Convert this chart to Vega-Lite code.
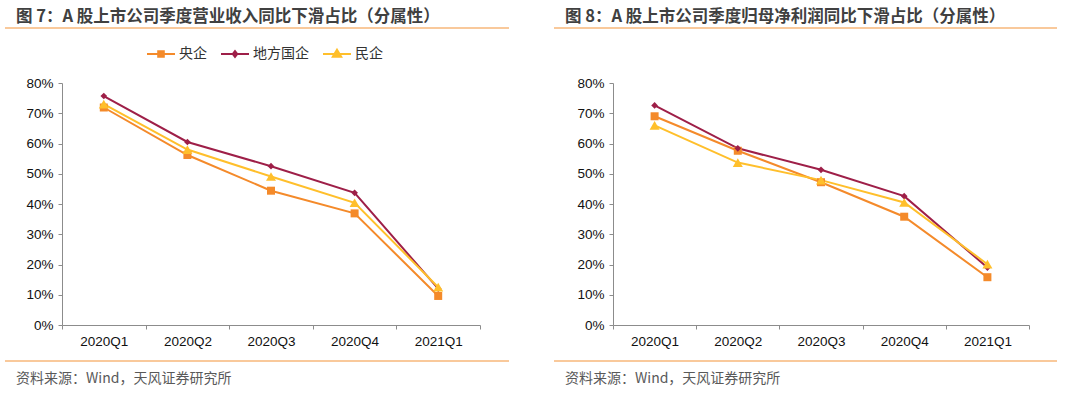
{
  "$schema": "https://vega.github.io/schema/vega-lite/v6.json",
  "background": "white",
  "padding": {"left": 3, "top": 8, "right": 0, "bottom": 0},
  "spacing": 42,
  "config": {
    "view": {"stroke": null},
    "font": "Liberation Sans",
    "axis": {"grid": false, "title": null, "domainColor": "#8c8c8c", "tickColor": "#8c8c8c", "tickSize": 4, "labelFont": "Liberation Sans", "labelFontSize": 13.5, "labelColor": "#111111", "labelOverlap": false}
  },
  "datasets": {
    "rev": [
      {"q": "2020Q1", "s": "央企", "v": 0.719},
      {"q": "2020Q2", "s": "央企", "v": 0.562},
      {"q": "2020Q3", "s": "央企", "v": 0.444},
      {"q": "2020Q4", "s": "央企", "v": 0.369},
      {"q": "2021Q1", "s": "央企", "v": 0.096},
      {"q": "2020Q1", "s": "地方国企", "v": 0.757},
      {"q": "2020Q2", "s": "地方国企", "v": 0.605},
      {"q": "2020Q3", "s": "地方国企", "v": 0.525},
      {"q": "2020Q4", "s": "地方国企", "v": 0.437},
      {"q": "2021Q1", "s": "地方国企", "v": 0.12},
      {"q": "2020Q1", "s": "民企", "v": 0.73},
      {"q": "2020Q2", "s": "民企", "v": 0.58},
      {"q": "2020Q3", "s": "民企", "v": 0.491},
      {"q": "2020Q4", "s": "民企", "v": 0.404},
      {"q": "2021Q1", "s": "民企", "v": 0.125}
    ],
    "profit": [
      {"q": "2020Q1", "s": "央企", "v": 0.69},
      {"q": "2020Q2", "s": "央企", "v": 0.576},
      {"q": "2020Q3", "s": "央企", "v": 0.472},
      {"q": "2020Q4", "s": "央企", "v": 0.358},
      {"q": "2021Q1", "s": "央企", "v": 0.158},
      {"q": "2020Q1", "s": "地方国企", "v": 0.726},
      {"q": "2020Q2", "s": "地方国企", "v": 0.584},
      {"q": "2020Q3", "s": "地方国企", "v": 0.513},
      {"q": "2020Q4", "s": "地方国企", "v": 0.426},
      {"q": "2021Q1", "s": "地方国企", "v": 0.19},
      {"q": "2020Q1", "s": "民企", "v": 0.66},
      {"q": "2020Q2", "s": "民企", "v": 0.537},
      {"q": "2020Q3", "s": "民企", "v": 0.479},
      {"q": "2020Q4", "s": "民企", "v": 0.405},
      {"q": "2021Q1", "s": "民企", "v": 0.201}
    ]
  },
  "hconcat": [
    {
      "width": 418,
      "height": 242,
      "title": {"text": "图 7：A 股上市公司季度营业收入同比下滑占比（分属性）", "anchor": "start", "frame": "group", "dx": -46, "offset": 2, "font": "Noto Sans CJK SC", "fontSize": 16.5, "fontWeight": "bold", "color": "#404040"},
      "layer": [
        {
          "data": {"name": "rev"},
          "mark": {"type": "line", "strokeWidth": 2},
          "encoding": {
            "x": {"field": "q", "type": "nominal", "bandPosition": 0.5, "scale": {"type": "band", "paddingInner": 0, "paddingOuter": 0}, "axis": {"labelAngle": 0, "tickBand": "extent", "labelPadding": 5}},
            "y": {"field": "v", "type": "quantitative", "scale": {"domain": [0, 0.8], "nice": false}, "axis": {"format": ".0%", "values": [0, 0.1, 0.2, 0.3, 0.4, 0.5, 0.6, 0.7, 0.8], "tickCount": 9, "labelPadding": 5}},
            "color": {"field": "s", "type": "nominal", "scale": {"domain": ["央企", "地方国企", "民企"], "range": ["#F48A2A", "#9E1F48", "#FFBF2B"]},
              "legend": {"orient": "none", "legendX": 84, "legendY": -44, "direction": "horizontal", "title": null, "padding": 0, "symbolSize": 784, "labelOffset": 3, "columnPadding": 10, "labelFont": "Noto Sans CJK SC", "labelFontSize": 14, "labelColor": "#333333",
                "encode": {"symbols": {"update": {"shape": {"signal": "datum.value === '央企' ? 'M-1,0H1M-0.2,-0.2H0.2V0.2H-0.2Z' : datum.value === '地方国企' ? 'M-1,0H1M0,-0.2L0.16,0L0,0.2L-0.16,0Z' : 'M-1,0H1M0,-0.3L0.3,0.2H-0.3Z'"}, "size": {"value": 784}, "fill": {"scale": "color", "field": "value"}, "stroke": {"scale": "color", "field": "value"}, "strokeWidth": {"value": 2}, "opacity": {"value": 1}, "strokeOpacity": {"value": 1}, "fillOpacity": {"value": 1}}}}}}
          }
        },
        {
          "data": {"name": "rev"},
          "transform": [{"filter": "datum.s === '央企'"}],
          "mark": {"type": "point", "filled": true, "opacity": 1, "shape": "square", "size": 64, "color": "#F48A2A"},
          "encoding": {
            "x": {"field": "q", "type": "nominal", "bandPosition": 0.5, "scale": {"type": "band", "paddingInner": 0, "paddingOuter": 0}, "axis": null},
            "y": {"field": "v", "type": "quantitative", "scale": {"domain": [0, 0.8], "nice": false}, "axis": {"format": ".0%", "values": [0, 0.1, 0.2, 0.3, 0.4, 0.5, 0.6, 0.7, 0.8], "tickCount": 9, "labelPadding": 5}}
          }
        },
        {
          "data": {"name": "rev"},
          "transform": [{"filter": "datum.s === '地方国企'"}],
          "mark": {"type": "point", "filled": true, "opacity": 1, "shape": "diamond", "size": 45, "color": "#9E1F48"},
          "encoding": {
            "x": {"field": "q", "type": "nominal", "bandPosition": 0.5, "scale": {"type": "band", "paddingInner": 0, "paddingOuter": 0}, "axis": null},
            "y": {"field": "v", "type": "quantitative", "scale": {"domain": [0, 0.8], "nice": false}, "axis": {"format": ".0%", "values": [0, 0.1, 0.2, 0.3, 0.4, 0.5, 0.6, 0.7, 0.8], "tickCount": 9, "labelPadding": 5}}
          }
        },
        {
          "data": {"name": "rev"},
          "transform": [{"filter": "datum.s === '民企'"}],
          "mark": {"type": "point", "filled": true, "opacity": 1, "shape": "triangle-up", "size": 100, "color": "#FFBF2B"},
          "encoding": {
            "x": {"field": "q", "type": "nominal", "bandPosition": 0.5, "scale": {"type": "band", "paddingInner": 0, "paddingOuter": 0}, "axis": null},
            "y": {"field": "v", "type": "quantitative", "scale": {"domain": [0, 0.8], "nice": false}, "axis": {"format": ".0%", "values": [0, 0.1, 0.2, 0.3, 0.4, 0.5, 0.6, 0.7, 0.8], "tickCount": 9, "labelPadding": 5}}
          }
        },
        {
          "data": {"values": [{"a": -0.1364, "b": 1.0694, "y": 0.9818}, {"a": -0.1364, "b": 1.0694, "y": -0.119}]},
          "mark": {"type": "rule", "color": "#F9C99B", "strokeWidth": 2},
          "encoding": {
            "x": {"field": "a", "type": "quantitative", "scale": {"domain": [0, 1], "nice": false, "zero": false}, "axis": null},
            "x2": {"field": "b"},
            "y": {"field": "y", "type": "quantitative", "scale": {"domain": [0, 0.8], "nice": false}, "axis": {"format": ".0%", "values": [0, 0.1, 0.2, 0.3, 0.4, 0.5, 0.6, 0.7, 0.8], "tickCount": 9, "labelPadding": 5}}
          }
        },
        {
          "data": {"values": [{"a": -0.11, "y": -0.1785, "t": "资料来源：Wind，天风证券研究所"}]},
          "mark": {"type": "text", "align": "left", "baseline": "middle", "font": "Noto Sans CJK SC", "fontSize": 14, "color": "#595959"},
          "encoding": {
            "x": {"field": "a", "type": "quantitative", "scale": {"domain": [0, 1], "nice": false, "zero": false}, "axis": null},
            "y": {"field": "y", "type": "quantitative", "scale": {"domain": [0, 0.8], "nice": false}, "axis": {"format": ".0%", "values": [0, 0.1, 0.2, 0.3, 0.4, 0.5, 0.6, 0.7, 0.8], "tickCount": 9, "labelPadding": 5}},
            "text": {"field": "t"}
          }
        }
      ],
      "resolve": {"scale": {"x": "independent"}}
    },
    {
      "width": 416,
      "height": 242,
      "title": {"text": "图 8：A 股上市公司季度归母净利润同比下滑占比（分属性）", "anchor": "start", "frame": "group", "dx": -48, "offset": 2, "font": "Noto Sans CJK SC", "fontSize": 16.5, "fontWeight": "bold", "color": "#404040"},
      "layer": [
        {
          "data": {"name": "profit"},
          "mark": {"type": "line", "strokeWidth": 2},
          "encoding": {
            "x": {"field": "q", "type": "nominal", "bandPosition": 0.5, "scale": {"type": "band", "paddingInner": 0, "paddingOuter": 0}, "axis": {"labelAngle": 0, "tickBand": "extent", "labelPadding": 5}},
            "y": {"field": "v", "type": "quantitative", "scale": {"domain": [0, 0.8], "nice": false}, "axis": {"format": ".0%", "values": [0, 0.1, 0.2, 0.3, 0.4, 0.5, 0.6, 0.7, 0.8], "tickCount": 9, "labelPadding": 5}},
            "color": {"field": "s", "type": "nominal", "scale": {"domain": ["央企", "地方国企", "民企"], "range": ["#F48A2A", "#9E1F48", "#FFBF2B"]},
              "legend": {"orient": "none", "legendX": 76, "legendY": -44, "direction": "horizontal", "title": null, "padding": 0, "symbolSize": 784, "labelOffset": 3, "columnPadding": 10, "labelFont": "Noto Sans CJK SC", "labelFontSize": 14, "labelColor": "#333333",
                "encode": {"symbols": {"update": {"shape": {"signal": "datum.value === '央企' ? 'M-1,0H1M-0.2,-0.2H0.2V0.2H-0.2Z' : datum.value === '地方国企' ? 'M-1,0H1M0,-0.2L0.16,0L0,0.2L-0.16,0Z' : 'M-1,0H1M0,-0.3L0.3,0.2H-0.3Z'"}, "size": {"value": 784}, "fill": {"scale": "color", "field": "value"}, "stroke": {"scale": "color", "field": "value"}, "strokeWidth": {"value": 2}, "opacity": {"value": 1}, "strokeOpacity": {"value": 1}, "fillOpacity": {"value": 1}}}}}}
          }
        },
        {
          "data": {"name": "profit"},
          "transform": [{"filter": "datum.s === '央企'"}],
          "mark": {"type": "point", "filled": true, "opacity": 1, "shape": "square", "size": 64, "color": "#F48A2A"},
          "encoding": {
            "x": {"field": "q", "type": "nominal", "bandPosition": 0.5, "scale": {"type": "band", "paddingInner": 0, "paddingOuter": 0}, "axis": null},
            "y": {"field": "v", "type": "quantitative", "scale": {"domain": [0, 0.8], "nice": false}, "axis": {"format": ".0%", "values": [0, 0.1, 0.2, 0.3, 0.4, 0.5, 0.6, 0.7, 0.8], "tickCount": 9, "labelPadding": 5}}
          }
        },
        {
          "data": {"name": "profit"},
          "transform": [{"filter": "datum.s === '地方国企'"}],
          "mark": {"type": "point", "filled": true, "opacity": 1, "shape": "diamond", "size": 45, "color": "#9E1F48"},
          "encoding": {
            "x": {"field": "q", "type": "nominal", "bandPosition": 0.5, "scale": {"type": "band", "paddingInner": 0, "paddingOuter": 0}, "axis": null},
            "y": {"field": "v", "type": "quantitative", "scale": {"domain": [0, 0.8], "nice": false}, "axis": {"format": ".0%", "values": [0, 0.1, 0.2, 0.3, 0.4, 0.5, 0.6, 0.7, 0.8], "tickCount": 9, "labelPadding": 5}}
          }
        },
        {
          "data": {"name": "profit"},
          "transform": [{"filter": "datum.s === '民企'"}],
          "mark": {"type": "point", "filled": true, "opacity": 1, "shape": "triangle-up", "size": 100, "color": "#FFBF2B"},
          "encoding": {
            "x": {"field": "q", "type": "nominal", "bandPosition": 0.5, "scale": {"type": "band", "paddingInner": 0, "paddingOuter": 0}, "axis": null},
            "y": {"field": "v", "type": "quantitative", "scale": {"domain": [0, 0.8], "nice": false}, "axis": {"format": ".0%", "values": [0, 0.1, 0.2, 0.3, 0.4, 0.5, 0.6, 0.7, 0.8], "tickCount": 9, "labelPadding": 5}}
          }
        },
        {
          "data": {"values": [{"a": -0.1418, "b": 1.0673, "y": 0.9818}, {"a": -0.1418, "b": 1.0673, "y": -0.119}]},
          "mark": {"type": "rule", "color": "#F9C99B", "strokeWidth": 2},
          "encoding": {
            "x": {"field": "a", "type": "quantitative", "scale": {"domain": [0, 1], "nice": false, "zero": false}, "axis": null},
            "x2": {"field": "b"},
            "y": {"field": "y", "type": "quantitative", "scale": {"domain": [0, 0.8], "nice": false}, "axis": {"format": ".0%", "values": [0, 0.1, 0.2, 0.3, 0.4, 0.5, 0.6, 0.7, 0.8], "tickCount": 9, "labelPadding": 5}}
          }
        },
        {
          "data": {"values": [{"a": -0.1154, "y": -0.1785, "t": "资料来源：Wind，天风证券研究所"}]},
          "mark": {"type": "text", "align": "left", "baseline": "middle", "font": "Noto Sans CJK SC", "fontSize": 14, "color": "#595959"},
          "encoding": {
            "x": {"field": "a", "type": "quantitative", "scale": {"domain": [0, 1], "nice": false, "zero": false}, "axis": null},
            "y": {"field": "y", "type": "quantitative", "scale": {"domain": [0, 0.8], "nice": false}, "axis": {"format": ".0%", "values": [0, 0.1, 0.2, 0.3, 0.4, 0.5, 0.6, 0.7, 0.8], "tickCount": 9, "labelPadding": 5}},
            "text": {"field": "t"}
          }
        }
      ],
      "resolve": {"scale": {"x": "independent"}}
    }
  ]
}
